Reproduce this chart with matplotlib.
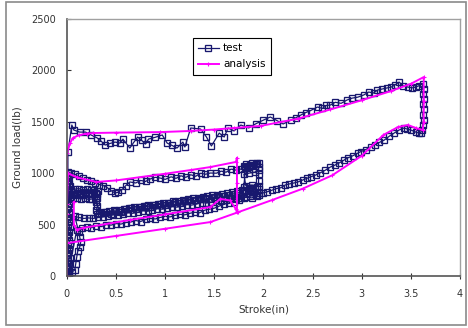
import matplotlib
matplotlib.use('Agg')
import matplotlib.pyplot as plt
from matplotlib.patches import Rectangle

# ---- test data, by segment ----
# initial loading at x ~ 0
t1_x = [0.00, 0.01, 0.02, 0.01, 0.00, 0.02, 0.01, 0.03, 0.00, 0.01, 0.02, 0.00, 0.01, 0.03, 0.02,
        0.00, 0.01, 0.02, 0.00, 0.03, 0.01, 0.02, 0.00, 0.01, 0.03, 0.02, 0.00, 0.01, 0.02, 0.00,
        0.03, 0.01, 0.02, 0.00, 0.01, 0.03, 0.02, 0.00, 0.01, 0.02, 0.01, 0.01, 0.05, 0.07]
t1_y = [0, 25, 50, 75, 100, 125, 150, 175, 200, 225, 250, 275, 300, 325, 350,
        375, 400, 425, 450, 475, 500, 525, 550, 575, 600, 625, 650, 675, 700, 725,
        750, 775, 800, 825, 850, 875, 900, 925, 950, 975, 1000, 1206, 1469, 1420]
# upper (compression) branch
t2_x = [0.13, 0.19, 0.25, 0.31, 0.35, 0.39, 0.44, 0.49, 0.54, 0.57, 0.64, 0.68, 0.72, 0.76, 0.80,
        0.83, 0.90, 0.97, 1.02, 1.07, 1.12, 1.18, 1.20, 1.26, 1.36, 1.42, 1.47, 1.55, 1.60, 1.64,
        1.70, 1.77, 1.85, 1.92, 2.00, 2.07, 2.14, 2.20, 2.28, 2.33, 2.38, 2.43, 2.48, 2.55, 2.60,
        2.64, 2.68, 2.73, 2.79, 2.85, 2.90, 2.96, 3.02, 3.07, 3.12, 3.16, 3.21, 3.26, 3.30, 3.34,
        3.38, 3.42, 3.47, 3.51, 3.55, 3.58, 3.62]
t2_y = [1400, 1400, 1370, 1342, 1310, 1274, 1290, 1303, 1293, 1332, 1245, 1300, 1352, 1320, 1284,
        1332, 1350, 1372, 1293, 1270, 1245, 1303, 1255, 1440, 1430, 1352, 1265, 1391, 1352, 1440,
        1411, 1469, 1440, 1480, 1517, 1547, 1510, 1479, 1517, 1540, 1566, 1590, 1610, 1644, 1630,
        1660, 1663, 1690, 1680, 1712, 1730, 1740, 1761, 1790, 1780, 1809, 1820, 1830, 1838, 1860,
        1887, 1850, 1838, 1830, 1838, 1850, 1870]
# drop at full stroke
t3_x = [3.63, 3.62, 3.63, 3.62, 3.63, 3.62, 3.63, 3.62, 3.61, 3.60]
t3_y = [1820, 1770, 1720, 1670, 1620, 1570, 1520, 1470, 1420, 1395]
# return branch
t4_x = [3.58, 3.55, 3.50, 3.46, 3.43, 3.38, 3.33, 3.28, 3.23, 3.18, 3.13, 3.09, 3.04, 2.99, 2.96,
        2.91, 2.86, 2.82, 2.77, 2.73, 2.68, 2.63, 2.58, 2.53, 2.48, 2.44, 2.40, 2.35, 2.31, 2.26,
        2.22, 2.18, 2.13, 2.09, 2.04, 1.99, 1.95]
t4_y = [1391, 1400, 1420, 1430, 1440, 1420, 1391, 1360, 1323, 1300, 1275, 1255, 1230, 1210, 1196,
        1170, 1150, 1128, 1100, 1080, 1060, 1030, 1005, 982, 965, 950, 934, 915, 905, 895,
        885, 860, 850, 836, 820, 807, 790]
# block at ~1.9 and band near 1000
t5_x = [1.95, 1.95, 1.95, 1.95, 1.93, 1.89, 1.85, 1.81, 1.77, 1.72, 1.67, 1.62, 1.57, 1.52, 1.46,
        1.41, 1.36, 1.31, 1.26, 1.21, 1.16, 1.11, 1.06, 1.00, 0.95, 0.90, 0.85, 0.80, 0.75, 0.70,
        0.64, 0.60, 0.56, 0.52, 0.49, 0.45, 0.41, 0.37, 0.33, 0.29, 0.25, 0.20, 0.16, 0.12, 0.08,
        0.04, 0.01]
t5_y = [850, 920, 990, 1060, 1100, 1080, 1070, 1060, 1040, 1030, 1040, 1010, 1020, 1000, 1002,
        990, 1000, 970, 985, 960, 975, 950, 965, 940, 953, 960, 945, 920, 930, 905,
        915, 880, 840, 815, 807, 830, 860, 880, 890, 905, 920, 930, 950, 970, 990,
        1000, 1012]
# small loop near x = 0.0 - 0.3
t6_x = [0.00, 0.01, 0.00, 0.02, 0.01, 0.04, 0.07, 0.10, 0.13, 0.16, 0.19, 0.22, 0.25, 0.28, 0.31,
        0.31, 0.30, 0.31, 0.30, 0.31]
t6_y = [960, 920, 880, 840, 800, 820, 800, 810, 790, 805, 795, 810, 800, 815, 800,
        760, 720, 680, 640, 600]
# middle band, outward
t7_x = [0.35, 0.40, 0.45, 0.50, 0.55, 0.60, 0.65, 0.70, 0.75, 0.80, 0.85, 0.90, 0.95, 1.00, 1.05,
        1.10, 1.15, 1.20, 1.25, 1.30, 1.35, 1.40, 1.45, 1.50, 1.55, 1.60, 1.65, 1.70, 1.75, 1.80,
        1.85, 1.90, 1.93]
t7_y = [610, 620, 600, 630, 625, 650, 660, 650, 670, 680, 670, 690, 700, 690, 710,
        720, 710, 730, 740, 735, 750, 760, 750, 770, 780, 775, 790, 800, 810, 830,
        850, 820, 780]
# middle band, back
t8_x = [1.88, 1.82, 1.77, 1.72, 1.67, 1.62, 1.57, 1.52, 1.47, 1.42, 1.37, 1.32, 1.27, 1.22, 1.17,
        1.12, 1.07, 1.02, 0.97, 0.92, 0.87, 0.82, 0.77, 0.72, 0.67, 0.62, 0.57, 0.52, 0.47, 0.42,
        0.37, 0.32, 0.27, 0.22, 0.17, 0.12, 0.08]
t8_y = [760, 770, 760, 750, 760, 740, 730, 735, 720, 710, 715, 700, 690, 695, 680,
        670, 675, 660, 650, 655, 640, 630, 635, 620, 610, 615, 600, 590, 595, 580,
        575, 570, 560, 565, 560, 570, 580]
# unloading to zero
t9_x = [0.12, 0.13, 0.14, 0.13, 0.11, 0.10, 0.09, 0.08, 0.05, 0.02, 0.01]
t9_y = [430, 380, 330, 282, 240, 185, 120, 58, 40, 20, 0]
# lower band
t10_x = [0.10, 0.15, 0.20, 0.25, 0.30, 0.35, 0.40, 0.45, 0.50, 0.55, 0.60, 0.65, 0.70, 0.75, 0.80,
         0.85, 0.90, 0.95, 1.00, 1.05, 1.10, 1.15, 1.20, 1.25, 1.30, 1.35, 1.40, 1.45, 1.50, 1.55,
         1.60, 1.65, 1.70, 1.75]
t10_y = [450, 470, 480, 470, 490, 480, 500, 495, 510, 505, 520, 525, 540, 530, 550,
         560, 555, 570, 580, 575, 590, 600, 595, 610, 620, 615, 640, 650, 660, 680,
         700, 710, 720, 740]
# dense block at ~1.8 - 1.95
t11_x = [1.80, 1.86, 1.92, 1.95, 1.88, 1.82, 1.86, 1.93, 1.95, 1.88, 1.82, 1.80, 1.85, 1.91, 1.95,
         1.89, 1.83, 1.80, 1.86, 1.92, 1.95, 1.88, 1.82, 1.80]
t11_y = [760, 775, 790, 810, 825, 840, 860, 870, 880, 885, 880, 990, 1000, 1010, 1030,
         1045, 1055, 1070, 1080, 1090, 1100, 1095, 1085, 870]
# middle band, third pass
t12_x = [1.78, 1.73, 1.68, 1.63, 1.58, 1.53, 1.48, 1.43, 1.38, 1.33, 1.28, 1.23, 1.18, 1.13, 1.08,
         1.03, 0.98, 0.93, 0.88, 0.83, 0.78, 0.73, 0.68, 0.63, 0.58, 0.53, 0.48, 0.43, 0.38, 0.33]
t12_y = [840, 830, 815, 810, 800, 790, 785, 775, 770, 760, 755, 745, 740, 730, 725,
         715, 710, 700, 695, 690, 680, 675, 670, 660, 655, 645, 640, 630, 625, 615]
# dense block at ~0.03 - 0.3
t13_x = [0.30, 0.26, 0.22, 0.18, 0.14, 0.10, 0.06, 0.03, 0.06, 0.10, 0.14, 0.18, 0.22, 0.26, 0.30,
         0.32, 0.28, 0.24, 0.20, 0.16, 0.12, 0.08, 0.04]
t13_y = [740, 750, 745, 755, 750, 760, 755, 770, 790, 800, 795, 805, 800, 810, 805,
         830, 840, 835, 845, 840, 850, 845, 840]

# ---- analysis data ----
a_x = [0.00, 0.00, 0.00, 0.00, 0.03, 0.06, 0.12, 0.20, 0.27, 0.50, 0.95, 1.26, 1.50, 1.70, 1.97,
       2.35, 2.68, 3.00, 3.30, 3.50, 3.63,
       3.63, 3.63, 3.62, 3.55, 3.47, 3.37, 3.22, 3.00, 2.70, 2.40, 2.09, 1.74, 1.46, 1.00, 0.50, 0.00,
       0.00, 0.01, 0.10, 0.30, 0.50, 1.00, 1.26, 1.46, 1.72, 1.73, 1.73, 1.73, 1.72, 1.66, 1.56,
       1.46, 1.00, 0.64, 0.16, 0.10, 0.07, 0.07]
a_y = [0, 600, 1000, 1196, 1290, 1342, 1370, 1385, 1391, 1395, 1400, 1411, 1425, 1440, 1460,
       1530, 1620, 1710, 1800, 1870, 1935,
       1700, 1500, 1420, 1440, 1469, 1450, 1372, 1170, 980, 850, 740, 620, 525, 460, 390, 320,
       700, 1000, 960, 915, 930, 995, 1031, 1060, 1110, 1150, 900, 620, 650, 735, 750,
       671, 600, 545, 467, 450, 500, 720]

x_ticks = [0, 0.5, 1, 1.5, 2, 2.5, 3, 3.5, 4]
x_labels = ['0', '0.5', '1', '1.5', '2', '2.5', '3', '3.5', '4']
y_ticks = [0, 500, 1000, 1500, 2000, 2500]

test_x = (t1_x + t2_x + t3_x + t4_x + t5_x + t6_x + t7_x + t8_x + t9_x + t10_x
          + t11_x + t12_x + t13_x)
test_y = (t1_y + t2_y + t3_y + t4_y + t5_y + t6_y + t7_y + t8_y + t9_y + t10_y
          + t11_y + t12_y + t13_y)

plt.rcParams['font.family'] = ['DejaVu Sans']
fig = plt.figure(figsize=(4.68, 3.28), dpi=100)
fig.patches.append(Rectangle((0.013, 0.009), 0.983, 0.985, transform=fig.transFigure,
                             fill=False, edgecolor='#8a8a8a', linewidth=1.2))
ax = fig.add_axes([0.143, 0.1585, 0.840, 0.7835])

navy = '#18186e'
ax.plot(test_x, test_y, color=navy, linewidth=0.9, marker='s', markersize=4.2,
        markerfacecolor='none', markeredgecolor=navy, markeredgewidth=0.95, label='test')
ax.plot(a_x, a_y, color='#ff00ff', linewidth=1.4, marker='+', markersize=2.5,
        markeredgewidth=0.8, label='analysis')

ax.set_xlim(0, 4)
ax.set_ylim(0, 2500)
ax.set_xticks(x_ticks)
ax.set_xticklabels(x_labels)
ax.set_yticks(y_ticks)
ax.tick_params(axis='x', direction='inout', length=4, labelsize=7, colors='#333333', pad=7)
ax.tick_params(axis='y', direction='in', length=3, labelsize=7, colors='#333333', pad=8)
for s in ['left', 'bottom']:
    ax.spines[s].set_color('#555555')
    ax.spines[s].set_linewidth(1.2)
for s in ['top', 'right']:
    ax.spines[s].set_color('#a0a0a0')
    ax.spines[s].set_linewidth(1.0)

ax.set_xlabel('Stroke(in)', fontsize=7.5, color='#333333', labelpad=4)
ax.set_ylabel('Ground load(lb)', fontsize=7.5, color='#333333', labelpad=6)

leg = ax.legend(loc='upper left', bbox_to_anchor=(0.32, 0.926), borderaxespad=0,
                fontsize=7.5, fancybox=False, framealpha=1, edgecolor='black',
                handlelength=2.0, handletextpad=0.4, borderpad=0.5, labelspacing=0.6)
leg.get_frame().set_linewidth(0.8)

fig.savefig('out.png', dpi=100)
